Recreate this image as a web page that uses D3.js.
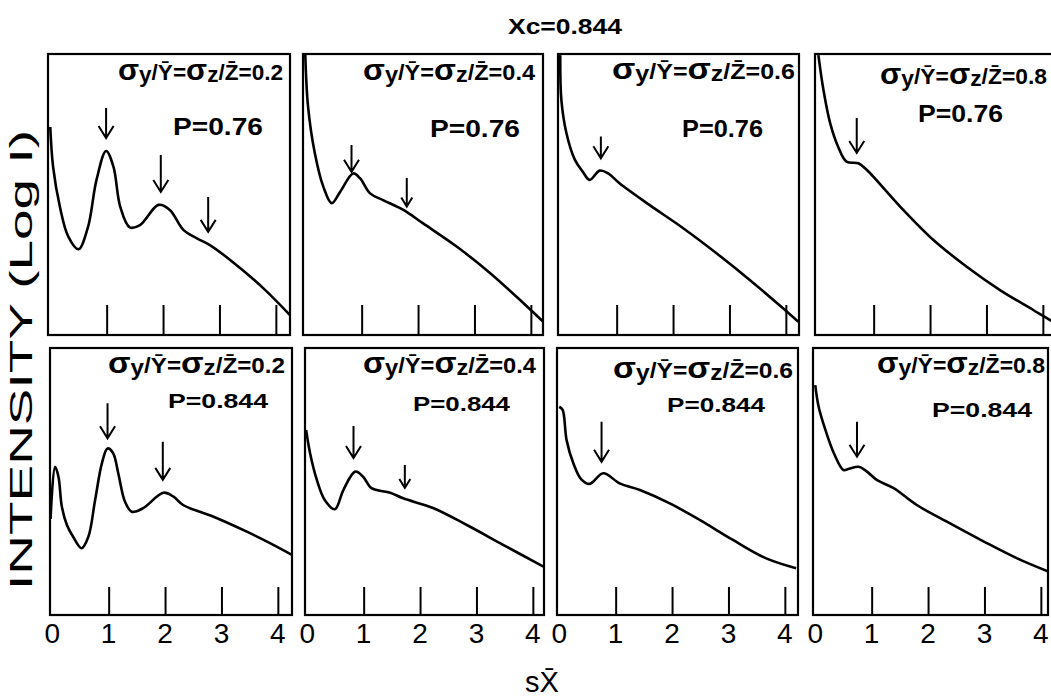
<!DOCTYPE html>
<html><head><meta charset="utf-8">
<script src="https://cdn.jsdelivr.net/npm/d3@7"></script>
<style>body{margin:0;background:#fff}svg{display:block}</style>
</head><body><svg id="c" width="1051" height="698"></svg>
<script>
// ---------- data ----------
const titleText = "Xc=0.844";
const sigmaValues = ["0.2", "0.4", "0.6", "0.8"];
const pValues = ["0.76", "0.844"];
const tickValues = [1, 2, 3, 4];
const tickLabels = [0, 1, 2, 3, 4];

// curves: [sX, log I (relative units 0-10)]
const curveTop02 = [[0,7.4],[0.05,5.99],[0.17,4.57],[0.32,3.50],[0.50,3.05],[0.67,3.85],[0.82,5.52],[0.99,6.55],[1.12,5.99],[1.24,4.57],[1.41,3.83],[1.59,3.91],[1.92,4.63],[2.12,4.45],[2.36,3.74],[2.60,3.44],[2.83,3.20],[3.19,2.67],[3.78,1.66],[4.25,0.71]];
const curveTop04 = [[0,10.0],[0.05,8.12],[0.17,6.47],[0.32,5.28],[0.47,4.69],[0.62,5.10],[0.85,5.75],[0.97,5.58],[1.15,5.04],[1.38,4.80],[1.74,4.45],[2.09,3.97],[2.69,3.14],[3.28,2.20],[3.87,1.13],[4.22,0.47]];
const curveTop06 = [[0,9.96],[0.02,8.36],[0.11,7.18],[0.26,6.23],[0.40,5.81],[0.52,5.52],[0.70,5.85],[0.85,5.75],[1.05,5.40],[1.58,4.63],[2.18,3.80],[2.77,2.91],[3.36,1.96],[3.95,0.95],[4.22,0.47]];
const curveTop08 = [[0.02,9.96],[0.11,8.72],[0.23,7.53],[0.37,6.70],[0.52,6.17],[0.73,6.11],[0.88,5.87],[1.47,4.57],[2.06,3.38],[2.65,2.43],[3.24,1.60],[3.83,0.89],[4.13,0.53],[4.25,0.40]];
const curveBot02 = [[-0.03,3.6],[0.05,5.55],[0.11,5.18],[0.17,4.06],[0.26,3.37],[0.37,2.93],[0.52,2.50],[0.64,2.93],[0.76,4.31],[0.88,5.68],[0.98,6.24],[1.08,6.06],[1.17,5.31],[1.29,4.24],[1.41,3.87],[1.61,4.00],[1.97,4.58],[2.15,4.43],[2.32,4.12],[2.86,3.68],[3.45,3.12],[3.86,2.69],[4.25,2.25]];
const curveBot04 = [[-0.02,6.93],[0.05,6.06],[0.17,5.06],[0.31,4.31],[0.49,3.96],[0.64,4.68],[0.85,5.37],[0.99,5.18],[1.14,4.75],[1.47,4.58],[1.70,4.37],[2.24,4.00],[2.83,3.37],[3.48,2.62],[4.19,1.81]];
const curveBot06 = [[0.0,7.80],[0.06,7.68],[0.13,6.55],[0.25,5.68],[0.39,5.08],[0.54,4.91],[0.78,5.31],[1.07,4.93],[1.43,4.68],[1.96,4.18],[2.49,3.56],[3.08,2.81],[3.67,2.12],[4.20,1.75]];
const curveBot08 = [[0.0,8.61],[0.06,7.80],[0.18,6.93],[0.33,6.06],[0.50,5.43],[0.60,5.48],[0.77,5.55],[0.90,5.40],[1.09,5.06],[1.39,4.75],[1.80,4.12],[2.39,3.43],[2.99,2.75],[3.58,2.12],[4.14,1.62]];

// arrows: [sX, tail logI, tip logI]
const arrowsTop02 = [[0.99,8.08,7.01],[1.96,6.41,5.09],[2.80,4.91,3.67]];
const arrowsTop04 = [[0.82,6.76,5.81],[1.80,5.59,4.57]];
const arrowsTop06 = [[0.72,7.06,6.29]];
const arrowsTop08 = [[0.70,7.72,6.48]];
const arrowsBot02 = [[0.98,7.93,6.62],[1.96,6.49,5.06]];
const arrowsBot04 = [[0.82,7.08,5.88],[1.73,5.62,4.76]];
const arrowsBot06 = [[0.75,7.24,5.74]];
const arrowsBot08 = [[0.74,7.24,5.93]];

// ---------- layout ----------
const panels = [
  {left:48, top:54, w:242, h:281, tickLen:30, curve:curveTop02, arrows:arrowsTop02, s:0, p:0, lx:118, ly:80, ll:165, px:173, py:135, pl:90, big:[1,1,1]},
  {left:303, top:54, w:240, h:281, tickLen:30, curve:curveTop04, arrows:arrowsTop04, s:1, p:0, lx:363, ly:80, ll:172, px:430, py:137, pl:90, big:[1,0]},
  {left:558, top:54, w:241, h:281, tickLen:30, curve:curveTop06, arrows:arrowsTop06, s:2, p:0, lx:612, ly:79, ll:183, px:682, py:137, pl:81, big:[1]},
  {left:815, top:54, w:242, h:281, tickLen:30, curve:curveTop08, arrows:arrowsTop08, s:3, p:0, lx:880, ly:84, ll:167, px:918, py:122, pl:85, big:[1]},
  {left:50, top:348, w:242, h:267, tickLen:28, curve:curveBot02, arrows:arrowsBot02, s:0, p:1, lx:108, ly:373, ll:177, px:168, py:408, pl:100, big:[1,1]},
  {left:305, top:348, w:239, h:267, tickLen:28, curve:curveBot04, arrows:arrowsBot04, s:1, p:1, lx:363, ly:373, ll:173, px:413, py:411, pl:97, big:[1,0]},
  {left:557, top:348, w:241, h:267, tickLen:28, curve:curveBot06, arrows:arrowsBot06, s:2, p:1, lx:613, ly:378, ll:180, px:667, py:412, pl:98, big:[1]},
  {left:813, top:348, w:235, h:267, tickLen:28, curve:curveBot08, arrows:arrowsBot08, s:3, p:1, lx:877, ly:373, ll:168, px:932, py:417, pl:100, big:[1]}
];

const svg = d3.select("#c");
const FONT = "'Liberation Sans', Arial, sans-serif";
const UNIT = 56.4; // px per unit of sX

svg.append("text").attr("x", 565).attr("y", 34).attr("text-anchor", "middle")
  .attr("textLength", 114).attr("lengthAdjust", "spacingAndGlyphs")
  .style("font-family", FONT).style("font-weight", "bold").style("font-size", "22px")
  .text(titleText);

panels.forEach((pn, i) => {
  const x = d3.scaleLinear().domain([-0.04, 4.25]).range([pn.left, pn.left + 4.29 * UNIT]);
  const y = d3.scaleLinear().domain([0, 10]).range([pn.top + pn.h, pn.top]);
  const g = svg.append("g");
  const cid = "clip" + i;
  svg.append("clipPath").attr("id", cid).append("rect")
    .attr("x", pn.left).attr("y", pn.top).attr("width", pn.w).attr("height", pn.h);

  // ticks via axis
  const ax = d3.axisTop(x).tickValues(tickValues).tickSize(pn.tickLen).tickFormat("");
  const axg = g.append("g").attr("transform", `translate(0,${pn.top + pn.h})`).call(ax);
  axg.select(".domain").remove();
  axg.selectAll("line").attr("stroke", "#000").attr("stroke-width", 2).attr("y2", -pn.tickLen);

  // curve
  const line = d3.line().x(d => x(d[0])).y(d => y(d[1])).curve(d3.curveCatmullRom.alpha(0.5));
  g.append("path").datum(pn.curve).attr("d", line).attr("fill", "none")
    .attr("stroke", "#000").attr("stroke-width", 2.6).attr("stroke-linejoin", "round")
    .attr("clip-path", `url(#${cid})`);

  // frame
  g.append("rect").attr("x", pn.left).attr("y", pn.top).attr("width", pn.w).attr("height", pn.h)
    .attr("fill", "none").attr("stroke", "#000").attr("stroke-width", 2.2);

  // arrows
  pn.arrows.forEach((a, k) => {
    const ax0 = x(a[0]), y0 = y(a[1]), y1 = y(a[2]);
    const big = pn.big[k];
    const hw = big ? 7.5 : 5.5, hh = big ? 12 : 9;
    g.append("path")
      .attr("d", `M${ax0},${y0}L${ax0},${y1}M${ax0 - hw},${y1 - hh}L${ax0},${y1}L${ax0 + hw},${y1 - hh}`)
      .attr("fill", "none").attr("stroke", "#000").attr("stroke-width", 2).attr("stroke-linejoin", "miter");
  });

  // sigma label
  const t = g.append("text").attr("x", pn.lx).attr("y", pn.ly)
    .attr("textLength", pn.ll).attr("lengthAdjust", "spacingAndGlyphs")
    .style("font-family", FONT).style("font-weight", "bold").style("font-size", "22px");
  t.append("tspan").text("σ").style("font-size", "30px");
  t.append("tspan").text("y").attr("dy", 2);
  t.append("tspan").text("/Ȳ").attr("dy", -2);
  t.append("tspan").text("=");
  t.append("tspan").text("σ").style("font-size", "30px");
  t.append("tspan").text("z").attr("dy", 2);
  t.append("tspan").text("/Z\u0304").attr("dy", -2);
  t.append("tspan").text("=" + sigmaValues[pn.s]);

  // P label
  g.append("text").attr("x", pn.px).attr("y", pn.py)
    .attr("textLength", pn.pl).attr("lengthAdjust", "spacingAndGlyphs")
    .style("font-family", FONT).style("font-weight", "bold").style("font-size", pn.p ? "21px" : "23px")
    .text("P=" + pValues[pn.p]);

  // tick labels for bottom row
  if (pn.p === 1) {
    g.selectAll(".tl").data(tickLabels).enter().append("text")
      .attr("x", d => x(d)).attr("y", 643).attr("text-anchor", "middle")
      .style("font-family", FONT).style("font-size", "28px")
      .text(d => d);
  }
});

// axis titles
svg.append("text").attr("transform", "translate(32,360) rotate(-90)").attr("text-anchor", "middle")
  .attr("textLength", 460).attr("lengthAdjust", "spacingAndGlyphs")
  .style("font-family", FONT).style("font-size", "31px")
  .text("INTENSITY (Log I)");

svg.append("text").attr("x", 542).attr("y", 692).attr("text-anchor", "middle")
  .style("font-family", FONT).style("font-size", "29px")
  .text("sX\u0304");
</script></body></html>
